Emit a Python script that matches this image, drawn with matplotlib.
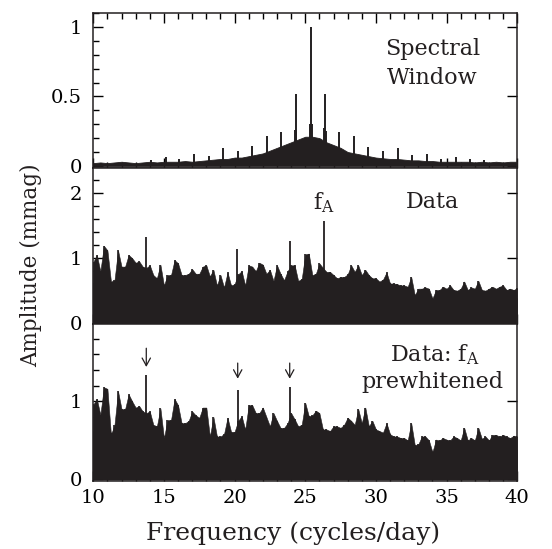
import numpy as np
import matplotlib
matplotlib.use("Agg")
import matplotlib.pyplot as plt
from matplotlib.ticker import MultipleLocator, FuncFormatter

plt.rcParams['font.family'] = ['DejaVu Serif']
plt.rcParams['mathtext.fontset'] = 'dejavuserif'

INK = '#231f20'

# --- spectral window: smooth pedestal (0.5 c/d grid) + alias spikes ---
window_freq = np.arange(10, 40.001, 0.5)
window_base = [
    0.020, 0.025, 0.020, 0.025, 0.030, 0.025, 0.020, 0.025,
    0.030, 0.025, 0.030, 0.030, 0.030, 0.035, 0.030, 0.035,
    0.040, 0.045, 0.050, 0.050, 0.060, 0.060, 0.070, 0.080,
    0.090, 0.110, 0.130, 0.150, 0.170, 0.190, 0.210, 0.210,
    0.200, 0.170, 0.150, 0.130, 0.100, 0.090, 0.080, 0.070,
    0.060, 0.055, 0.050, 0.050, 0.045, 0.040, 0.040, 0.035,
    0.035, 0.030, 0.030, 0.030, 0.030, 0.030, 0.025, 0.030,
    0.025, 0.030, 0.025, 0.030, 0.030,
]
window_spike_freq = [14.05, 15.12, 16.10, 17.15, 18.19, 19.20, 20.24, 21.25,
                     22.31, 23.28, 24.28, 24.33, 24.38, 25.33, 25.40, 25.47,
                     26.35, 26.40, 26.45, 27.41, 28.45, 29.46, 30.52, 31.56,
                     32.58, 33.60, 34.60, 35.65, 36.66, 37.65]
window_spike_amp = [0.045, 0.065, 0.050, 0.085, 0.070, 0.130, 0.110, 0.140,
                    0.215, 0.245, 0.260, 0.520, 0.260, 0.300, 1.000, 0.300,
                    0.270, 0.520, 0.250, 0.245, 0.215, 0.137, 0.110, 0.130,
                    0.080, 0.085, 0.050, 0.065, 0.050, 0.040]

# --- amplitude spectra ---
# solid lower mass, 1 c/d grid
floor_freq = np.arange(10, 40.001, 1.0)
data_floor = [0.62, 0.60, 0.60, 0.58, 0.56, 0.50, 0.52, 0.52, 0.50, 0.48,
              0.50, 0.52, 0.52, 0.52, 0.52, 0.55, 0.55, 0.55, 0.52, 0.50,
              0.46, 0.44, 0.40, 0.38, 0.36, 0.36, 0.38, 0.38, 0.38, 0.38,
              0.38]
prew_floor = [0.62, 0.60, 0.60, 0.58, 0.55, 0.50, 0.52, 0.52, 0.48, 0.48,
              0.50, 0.52, 0.52, 0.50, 0.50, 0.52, 0.50, 0.50, 0.50, 0.48,
              0.45, 0.42, 0.40, 0.36, 0.36, 0.36, 0.38, 0.38, 0.38, 0.38,
              0.38]

# spike tops on a 0.25 c/d grid
data_freq = np.arange(10, 40.001, 0.25)
data_amp = [
    0.94, 1.05, 0.80, 1.19, 1.12, 0.64, 0.66, 1.12,
    0.87, 0.87, 1.05, 1.00, 0.93, 0.95, 0.87, 0.85,
    0.89, 0.74, 0.69, 0.90, 0.58, 0.74, 0.74, 0.97,
    0.92, 0.74, 0.74, 0.76, 0.83, 0.76, 0.76, 0.87,
    0.89, 0.72, 0.82, 0.58, 0.74, 0.55, 0.78, 0.58,
    0.60, 0.75, 0.80, 0.58, 0.89, 0.87, 0.80, 0.93,
    0.90, 0.76, 0.82, 0.65, 0.89, 0.76, 0.66, 0.80,
    0.89, 0.89, 0.65, 0.68, 1.06, 1.07, 0.74, 0.76,
    0.92, 0.85, 0.79, 0.79, 0.74, 0.69, 0.71, 0.71,
    0.75, 0.89, 0.79, 0.89, 0.74, 0.82, 0.74, 0.69,
    0.69, 0.64, 0.67, 0.78, 0.61, 0.61, 0.60, 0.58,
    0.58, 0.56, 0.71, 0.43, 0.53, 0.53, 0.55, 0.53,
    0.38, 0.51, 0.51, 0.56, 0.53, 0.58, 0.51, 0.50,
    0.53, 0.64, 0.51, 0.55, 0.53, 0.65, 0.51, 0.50,
    0.53, 0.56, 0.53, 0.56, 0.58, 0.51, 0.53, 0.51,
    0.54,
]
data_peak_freq = [13.75, 20.20, 23.92, 26.35]
data_peak_amp = [1.33, 1.14, 1.26, 1.58]

prew_amp = [
    0.96, 1.03, 0.83, 1.18, 1.16, 0.57, 0.70, 1.13,
    0.90, 0.90, 1.09, 1.00, 0.92, 0.94, 0.87, 0.85,
    0.87, 0.70, 0.68, 0.91, 0.53, 0.76, 0.76, 1.03,
    0.95, 0.72, 0.72, 0.75, 0.87, 0.82, 0.79, 0.92,
    0.92, 0.55, 0.80, 0.55, 0.55, 0.58, 0.79, 0.61,
    0.61, 0.75, 0.81, 0.64, 0.95, 0.95, 0.85, 0.85,
    0.92, 0.80, 0.68, 0.85, 0.75, 0.66, 0.66, 0.72,
    0.85, 0.77, 0.68, 0.70, 0.98, 0.81, 0.82, 0.88,
    0.85, 0.64, 0.64, 0.62, 0.68, 0.68, 0.66, 0.70,
    0.79, 0.75, 0.70, 0.90, 0.72, 0.92, 0.68, 0.75,
    0.64, 0.62, 0.60, 0.72, 0.58, 0.55, 0.55, 0.53,
    0.53, 0.50, 0.72, 0.44, 0.45, 0.55, 0.55, 0.50,
    0.35, 0.51, 0.50, 0.53, 0.51, 0.50, 0.55, 0.53,
    0.50, 0.66, 0.50, 0.53, 0.50, 0.66, 0.52, 0.55,
    0.50, 0.57, 0.57, 0.55, 0.57, 0.55, 0.53, 0.56,
    0.55,
]
prew_peak_freq = [13.75, 20.22, 23.90]
prew_peak_amp = [1.34, 1.14, 1.18]
# arrows over the remaining peaks: (tail, head) amplitudes
arrow_top = [1.68, 1.49, 1.49]
arrow_tip = [1.44, 1.29, 1.29]


def style_axis(ax, ylim, major, minor, top_ticks=False):
    ax.set_xlim(10, 40)
    ax.set_ylim(*ylim)
    ax.xaxis.set_major_locator(MultipleLocator(5))
    ax.xaxis.set_minor_locator(MultipleLocator(1))
    ax.yaxis.set_major_locator(MultipleLocator(major))
    ax.yaxis.set_minor_locator(MultipleLocator(minor))
    ax.yaxis.set_major_formatter(FuncFormatter(lambda v, p: f'{v:g}'))
    ax.tick_params(which='major', direction='in', length=7, width=1.0,
                   right=True, top=top_ticks, labelsize=14, pad=8)
    ax.tick_params(which='minor', direction='in', length=4.5, width=1.0,
                   right=False, top=top_ticks)
    ax.tick_params(axis='x', which='major', pad=6)
    for sp in ax.spines.values():
        sp.set_linewidth(1.1)
        sp.set_color(INK)
        sp.set_zorder(5)


def draw_spectrum(ax, floor, freq, amp, peak_freq, peak_amp):
    ax.fill_between(floor_freq, 0, floor, color=INK, lw=0.6, zorder=2)
    ax.fill_between(freq, 0, amp, color=INK, lw=0.4, zorder=2)
    ax.vlines(freq, 0, amp, color=INK, lw=1.2, zorder=2)
    ax.vlines(peak_freq, 0, peak_amp, color=INK, lw=1.3, zorder=3)


fig = plt.figure(figsize=(5.52, 5.49), dpi=100)
left, width = 0.169, 0.768
ax1 = fig.add_axes([left, 0.694, width, 0.2823])
ax2 = fig.add_axes([left, 0.4098, width, 0.2842], sharex=ax1)
ax3 = fig.add_axes([left, 0.1239, width, 0.2859], sharex=ax1)

# spectral window
ax1.fill_between(window_freq, 0, window_base, color=INK, lw=0.6, zorder=2)
ax1.vlines(window_spike_freq, 0, window_spike_amp, color=INK, lw=1.4, zorder=3)
style_axis(ax1, (-0.015, 1.10), 0.5, 0.1, top_ticks=True)
ax1.text(34.0, 0.84, 'Spectral', ha='center', va='center', fontsize=16, color=INK)
ax1.text(34.0, 0.635, 'Window', ha='center', va='center', fontsize=16, color=INK)
ax1.tick_params(labelbottom=False)

# data
draw_spectrum(ax2, data_floor, data_freq, data_amp, data_peak_freq, data_peak_amp)
style_axis(ax2, (-0.015, 2.39), 1, 0.2)
ax2.text(34.0, 1.87, 'Data', ha='center', va='center', fontsize=16, color=INK)
ax2.text(26.3, 1.86, r'f$_{\mathrm{A}}$', ha='center', va='center',
         fontsize=16, color=INK)
ax2.tick_params(labelbottom=False)

# data with f_A removed
draw_spectrum(ax3, prew_floor, data_freq, prew_amp, prew_peak_freq, prew_peak_amp)
style_axis(ax3, (-0.02, 1.99), 1, 0.2)
ax3.text(34.2, 1.60, r'Data: f$_{\mathrm{A}}$', ha='center', va='center',
         fontsize=16, color=INK)
ax3.text(34.0, 1.25, 'prewhitened', ha='center', va='center', fontsize=16, color=INK)
for f, top, tip in zip(prew_peak_freq, arrow_top, arrow_tip):
    ax3.annotate('', xy=(f, tip), xytext=(f, top),
                 arrowprops=dict(arrowstyle='->,head_length=0.55,head_width=0.3',
                                 color=INK, lw=0.9, shrinkA=0, shrinkB=0))

ax3.set_xlabel('Frequency (cycles/day)', fontsize=18, color=INK)
ax3.xaxis.set_label_coords(0.471, -0.255)
fig.text(0.056, 0.517, 'Amplitude (mmag)', rotation=90, ha='center', va='center',
         fontsize=15.5, color=INK)

fig.savefig('out.png', dpi=100)
